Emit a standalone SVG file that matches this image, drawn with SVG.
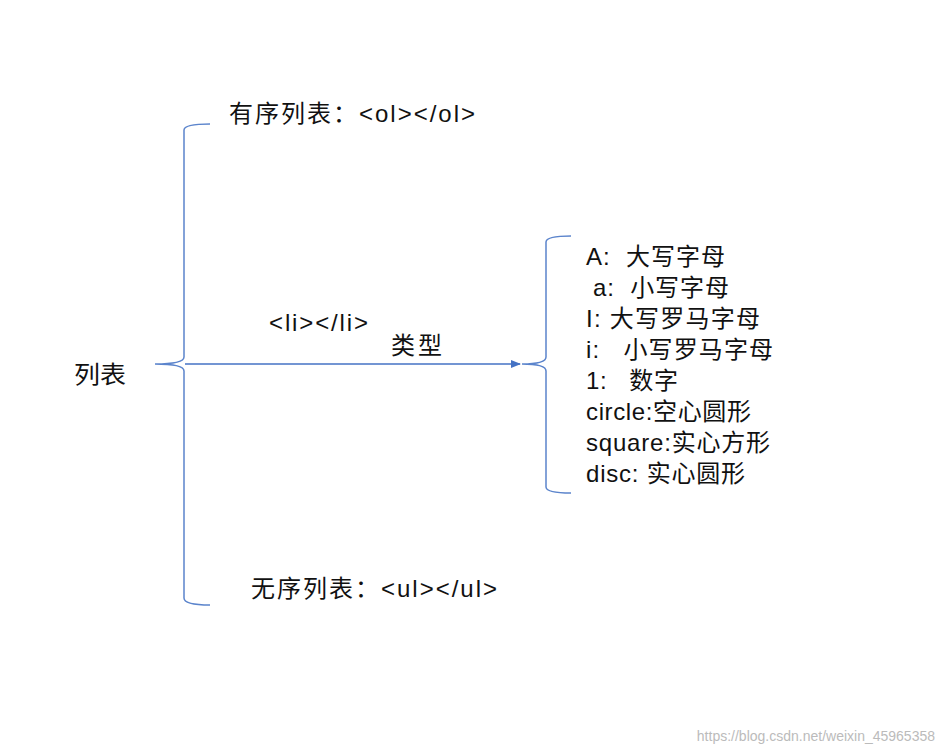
<svg xmlns="http://www.w3.org/2000/svg" width="945" height="753" viewBox="0 0 945 753">
<style>
text{font-family:"Liberation Sans","Noto Sans CJK SC",sans-serif;font-size:24px;fill:#111;white-space:pre}
.b{fill:none;stroke:#5b84cc;stroke-width:1.5}
</style>
<defs><marker id="ar" markerWidth="10" markerHeight="8" refX="9" refY="4" orient="auto" markerUnits="userSpaceOnUse"><path d="M0,0L10,4L0,8z" fill="#4472c4"/></marker></defs>
<rect width="945" height="753" fill="#fff"/>
<g id="braceL"><path class="b" d="M210,124 Q184,124 184,130 L184,357 Q184,364 155,364 Q184,364 184,371 L184,598 Q184,605 210,605"/></g>
<g id="braceR"><path class="b" d="M571,236 Q546,236 546,242 L546,357 Q546,364 522,364 Q546,364 546,371 L546,487 Q546,493 571,493"/></g>
<g id="connectors"><line x1="185" y1="364" x2="520" y2="364" stroke="#4472c4" stroke-width="1.3" marker-end="url(#ar)"/></g>
<g id="root"><text x="74" y="383" textLength="52" lengthAdjust="spacingAndGlyphs">列表</text></g>
<g id="ol"><text x="229" y="122" textLength="246">有序列表：&lt;ol&gt;&lt;/ol&gt;</text></g>
<g id="ul"><text x="251" y="597" textLength="246">无序列表：&lt;ul&gt;&lt;/ul&gt;</text></g>
<g id="li"><text x="269" y="331" textLength="99">&lt;li&gt;&lt;/li&gt;</text><text x="391" y="354" textLength="51">类型</text></g>
<g id="types">
<text x="586" y="265" textLength="139">A:  大写字母</text>
<text x="593" y="296" textLength="136">a:  小写字母</text>
<text x="586" y="327" textLength="174">I: 大写罗马字母</text>
<text x="586" y="358" textLength="187">i:   小写罗马字母</text>
<text x="586" y="389" textLength="92">1:   数字</text>
<text x="586" y="420" textLength="165">circle:空心圆形</text>
<text x="586" y="451" textLength="184">square:实心方形</text>
<text x="586" y="482" textLength="159">disc: 实心圆形</text>
</g>
<text x="935" y="741" text-anchor="end" style="font-size:14px;fill:#bbb">https://blog.csdn.net/weixin_45965358</text>
</svg>
